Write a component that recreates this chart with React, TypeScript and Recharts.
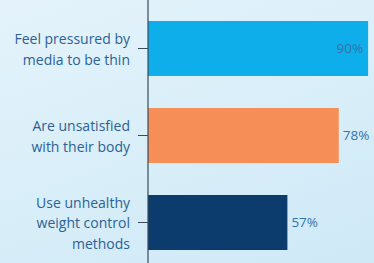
import React from 'react';
import { BarChart, Bar, XAxis, YAxis, Cell, LabelList } from 'recharts';

const categories = [
  'Feel pressured by|media to be thin',
  'Are unsatisfied|with their body',
  'Use unhealthy|weight control|methods',
];
const shares = [90, 78, 57];
const barColors = ['#0daeea', '#f58e57', '#0b3c6d'];

const data = categories.map((name, i) => ({ name, value: shares[i] }));

const CategoryTick = ({ x, y, payload }: any) => {
  const lines: string[] = String(payload.value).split('|');
  const lineHeight = 20.5;
  const startY = y - ((lines.length - 1) * lineHeight) / 2 + 1;
  return (
    <text
      x={x}
      y={startY}
      textAnchor="end"
      fill="#2b6196"
      fontSize={14}
      fontFamily="'Open Sans', sans-serif"
    >
      {lines.map((line, i) => (
        <tspan key={i} x={x} y={startY + i * lineHeight} dy="0.35em">
          {line}
        </tspan>
      ))}
    </text>
  );
};

const ValueLabel = (props: any) => {
  const { x, y, width, height, value, index } = props;
  const inside = index === 0;
  const tx = inside ? x + width - 5 : x + width + 4;
  return (
    <text
      x={tx}
      y={y + height / 2}
      dy="0.35em"
      textAnchor={inside ? 'end' : 'start'}
      fill="#3574a8"
      fontSize={13.5}
      fontFamily="'Open Sans', sans-serif"
    >
      {value}%
    </text>
  );
};

export default function App() {
  return (
    <div
      style={{
        position: 'fixed',
        left: 0,
        top: 0,
        width: 374,
        height: 263,
        overflow: 'hidden',
        background: 'linear-gradient(160deg, #e4f3fb 0%, #d8eef9 55%, #cfe9f7 100%)',
      }}
    >
      <BarChart
        width={374}
        height={266}
        data={data}
        layout="vertical"
        margin={{ top: 0, right: 1, bottom: 0, left: 0 }}
        barCategoryGap={16}
      >
        <XAxis type="number" domain={[0, 92]} hide />
        <YAxis
          type="category"
          dataKey="name"
          width={148}
          padding={{ top: 5, bottom: 0 }}
          tickSize={10}
          tickMargin={8}
          axisLine={{ stroke: '#3a4a5a', strokeWidth: 1.2 }}
          tickLine={{ stroke: '#3a4a5a' }}
          tick={<CategoryTick />}
        />
        <Bar dataKey="value" isAnimationActive={false}>
          {data.map((d, i) => (
            <Cell key={d.name} fill={barColors[i]} />
          ))}
          <LabelList dataKey="value" content={<ValueLabel />} />
        </Bar>
      </BarChart>
    </div>
  );
}
